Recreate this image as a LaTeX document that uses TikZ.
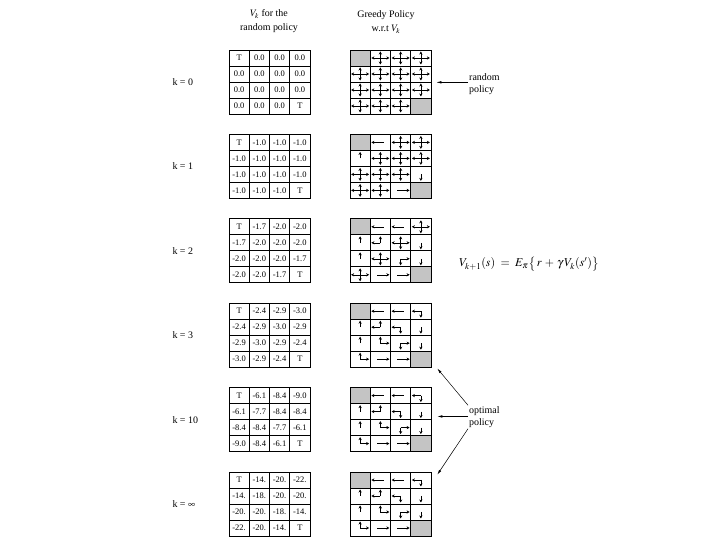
\documentclass[tikz,border=0pt]{standalone}
\usepackage{mathptmx}
\usepackage{fontspec}
\setmainfont{Liberation Serif}
\usetikzlibrary{arrows.meta,calc}
\definecolor{termgray}{RGB}{196,196,196}
\tikzset{
  vcell/.style={draw, line width=0.7bp, minimum width=20.25bp, minimum height=16bp, inner sep=0pt, font=\fontsize{8.5}{10}\selectfont},
  pcell/.style={draw, line width=0.7bp, minimum width=20.25bp, minimum height=16bp, inner sep=0pt},
  parrow/.style={line width=0.5bp, -{Stealth[length=3bp,width=3.2bp]}},
  klabel/.style={anchor=west, font=\fontsize{10}{12}\selectfont},
  head/.style={align=center, font=\fontsize{10}{14}\selectfont},
  note/.style={align=left, anchor=west, inner sep=1bp, font=\fontsize{10}{12}\selectfont},
  callout/.style={line width=0.5bp, -{Latex[length=5bp,width=2.5bp]}}
}
% r/c/left/up/right/down
\def\polzero{0/1/1/1/1/1,0/2/1/1/1/1,0/3/1/1/1/1,
  1/0/1/1/1/1,1/1/1/1/1/1,1/2/1/1/1/1,1/3/1/1/1/1,
  2/0/1/1/1/1,2/1/1/1/1/1,2/2/1/1/1/1,2/3/1/1/1/1,
  3/0/1/1/1/1,3/1/1/1/1/1,3/2/1/1/1/1}
\def\polone{0/1/1/0/0/0,0/2/1/1/1/1,0/3/1/1/1/1,
  1/0/0/1/0/0,1/1/1/1/1/1,1/2/1/1/1/1,1/3/1/1/1/1,
  2/0/1/1/1/1,2/1/1/1/1/1,2/2/1/1/1/1,2/3/0/0/0/1,
  3/0/1/1/1/1,3/1/1/1/1/1,3/2/0/0/1/0}
\def\poltwo{0/1/1/0/0/0,0/2/1/0/0/0,0/3/1/1/1/1,
  1/0/0/1/0/0,1/1/1/1/0/0,1/2/1/1/1/1,1/3/0/0/0/1,
  2/0/0/1/0/0,2/1/1/1/1/1,2/2/0/0/1/1,2/3/0/0/0/1,
  3/0/1/1/1/1,3/1/0/0/1/0,3/2/0/0/1/0}
\def\polopt{0/1/1/0/0/0,0/2/1/0/0/0,0/3/1/0/0/1,
  1/0/0/1/0/0,1/1/1/1/0/0,1/2/1/0/0/1,1/3/0/0/0/1,
  2/0/0/1/0/0,2/1/0/1/1/0,2/2/0/0/1/1,2/3/0/0/0/1,
  3/0/0/1/1/0,3/1/0/0/1/0,3/2/0/0/1/0}
% id, top (px from top), label, values, policy
\newcommand{\kblock}[5]{%
  \node[klabel] (k#1) at (169,{540-#2-32}) {#3};
  \foreach \val [count=\idx from 0] in {#4} {
    \pgfmathtruncatemacro\row{floor(\idx/4)}
    \pgfmathtruncatemacro\col{mod(\idx,4)}
    \node[vcell] (v#1-\row-\col) at ({229+20.25*(\col+0.5)},{540-#2-16*(\row+0.5)}) {\val};
  }
  \foreach \row in {0,...,3} \foreach \col in {0,...,3} {
    \pgfmathtruncatemacro\isterm{(\row==\col)&&((\row==0)||(\row==3))}
    \ifnum\isterm=1
      \node[pcell, fill=termgray] (p#1-\row-\col) at ({350+20.25*(\col+0.5)},{540-#2-16*(\row+0.5)}) {};
    \else
      \node[pcell] (p#1-\row-\col) at ({350+20.25*(\col+0.5)},{540-#2-16*(\row+0.5)}) {};
    \fi
  }
  \foreach \row/\col/\dl/\du/\dr/\dd in #5 {
    \pgfmathtruncatemacro\ndir{\dl+\du+\dr+\dd}
    \foreach \a/\f in {180/\dl,90/\du,0/\dr,270/\dd} {
      \ifnum\f=1
        \pgfmathsetmacro\bk{(\ndir==1)*abs(cos(\a))*0.35}
        \draw[parrow] (p#1-\row-\col.center) ++({\a+180}:{\bk*9} and {\bk*6.5}) -- ++(\a:{(1+\bk)*9} and {(1+\bk)*6.5});
      \fi
    }
  }
}
\begin{document}
\begin{tikzpicture}[x=1bp, y=1bp]
  \useasboundingbox (0,0) rectangle (720,540);
  \node[head] (vhead) at (269,{540-21}) {$V_k$ for the\\random policy};
  \node[head] (ghead) at (386,{540-22}) {Greedy Policy\\w.r.t $V_k$};

  \kblock{0}{50}{k = 0}{T,0.0,0.0,0.0,0.0,0.0,0.0,0.0,0.0,0.0,0.0,0.0,0.0,0.0,0.0,T}{\polzero}
  \kblock{1}{134.4}{k = 1}{T,-1.0,-1.0,-1.0,-1.0,-1.0,-1.0,-1.0,-1.0,-1.0,-1.0,-1.0,-1.0,-1.0,-1.0,T}{\polone}
  \kblock{2}{218.8}{k = 2}{T,-1.7,-2.0,-2.0,-1.7,-2.0,-2.0,-2.0,-2.0,-2.0,-2.0,-1.7,-2.0,-2.0,-1.7,T}{\poltwo}
  \kblock{3}{303.2}{k = 3}{T,-2.4,-2.9,-3.0,-2.4,-2.9,-3.0,-2.9,-2.9,-3.0,-2.9,-2.4,-3.0,-2.9,-2.4,T}{\polopt}
  \kblock{10}{387.6}{k = 10}{T,-6.1,-8.4,-9.0,-6.1,-7.7,-8.4,-8.4,-8.4,-8.4,-7.7,-6.1,-9.0,-8.4,-6.1,T}{\polopt}
  \kblock{inf}{472}{k = $\infty$}{T,-14.,-20.,-22.,-14.,-18.,-20.,-20.,-20.,-20.,-18.,-14.,-22.,-20.,-14.,T}{\polopt}

  % callouts
  \node[note] (rnd) at (468,{540-84.5}) {random\\policy};
  \coordinate (rnd-tip) at ($(p0-1-3.south east)+(5,0)$);
  \draw[callout] (rnd.west |- rnd-tip) -- (rnd-tip);

  \node[note] (opt) at (468,{540-417}) {optimal\\policy};
  \coordinate (opt3-tip) at ($(p3-3-3.south east)+(6,-1)$);
  \coordinate (opt10-tip) at ($(p10-1-3.south east)+(6,3.5)$);
  \coordinate (optinf-tip) at ($(pinf-0-3.north east)+(6,-3)$);
  \draw[callout] (opt.north west) -- (opt3-tip);
  \draw[callout] (opt.west |- opt10-tip) -- (opt10-tip);
  \draw[callout] (opt.south west) -- (optinf-tip);

  \node[font=\fontsize{12}{14}\selectfont] (bellman) at (529,{540-264}) {$V_{k+1}(s) \;=\; E_\pi\bigl\{\,r \,+\, \gamma\, V_k(s')\bigr\}$};
\end{tikzpicture}
\end{document}
